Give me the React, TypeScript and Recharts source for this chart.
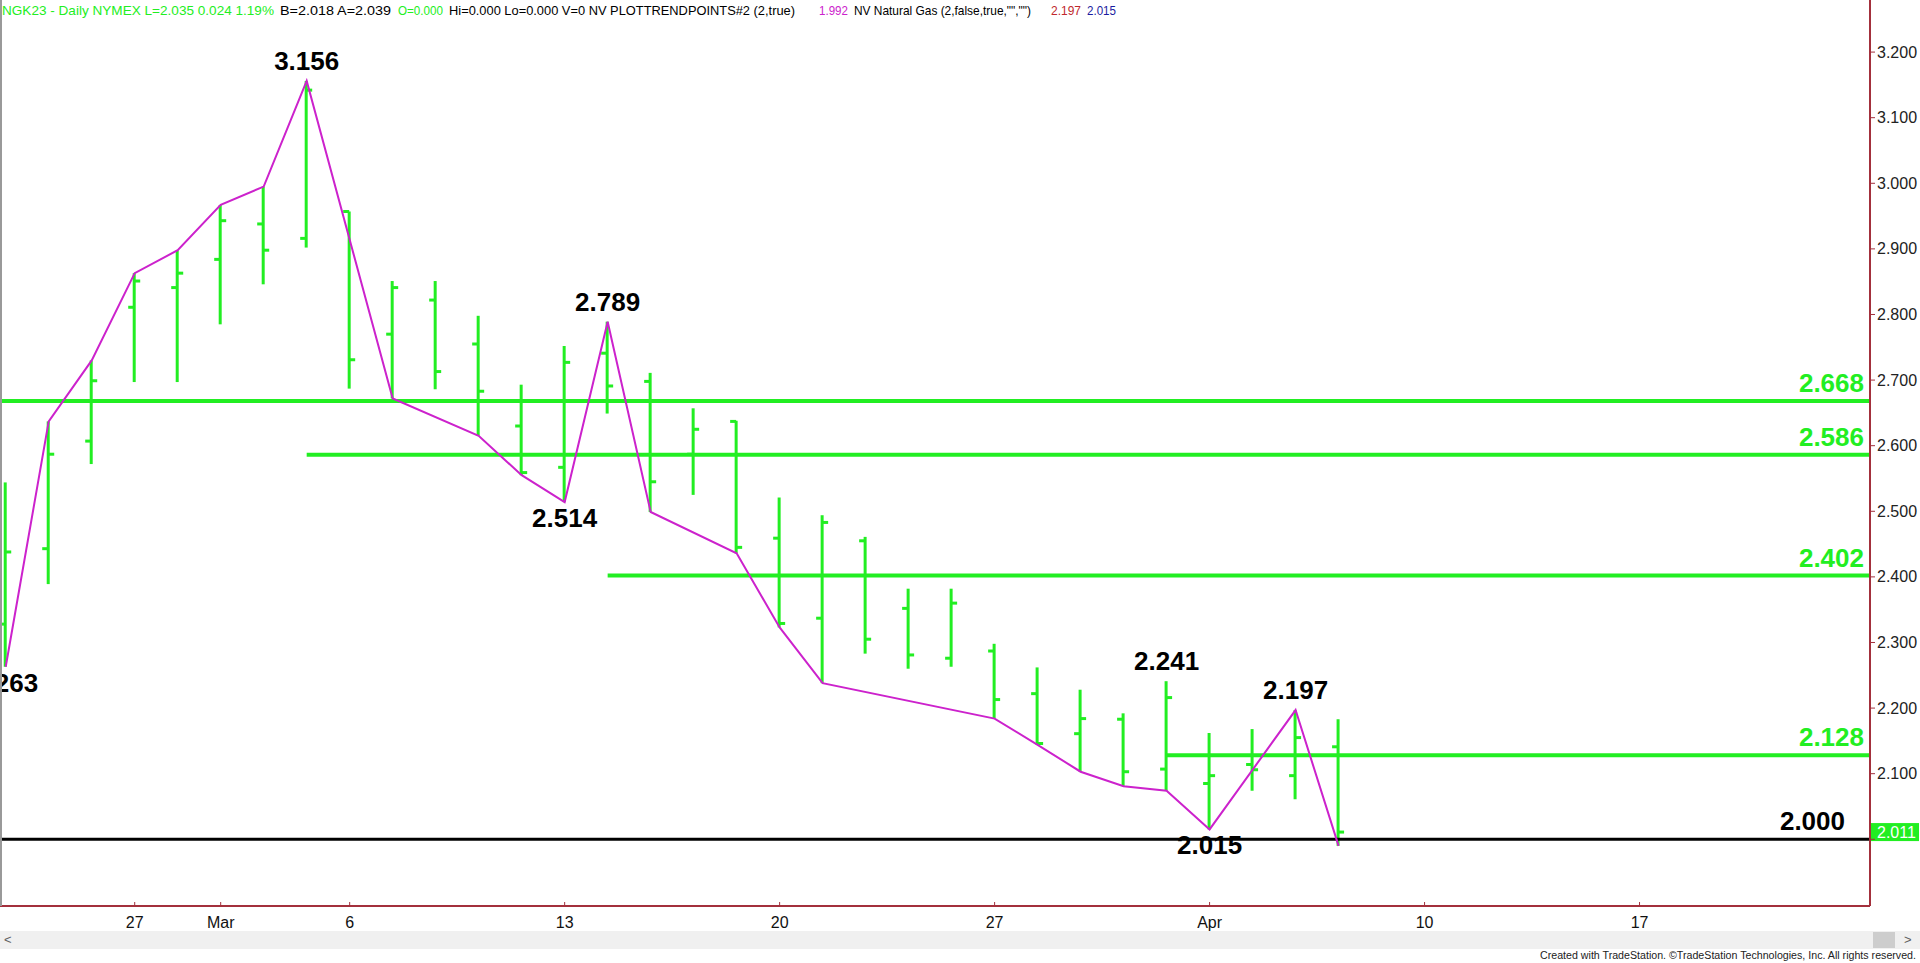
import React from "react";
import {
  ComposedChart,
  Bar,
  Line,
  XAxis,
  YAxis,
  ReferenceLine,
  ReferenceDot,
} from "recharts";

// daily bars, NGK23 (trading days only)
const dates = [
  "Feb 22", "Feb 23", "Feb 24", "Feb 27", "Feb 28", "Mar 1", "Mar 2", "Mar 3",
  "Mar 6", "Mar 7", "Mar 8", "Mar 9", "Mar 10", "Mar 13", "Mar 14", "Mar 15",
  "Mar 16", "Mar 17", "Mar 20", "Mar 21", "Mar 22", "Mar 23", "Mar 24", "Mar 27",
  "Mar 28", "Mar 29", "Mar 30", "Mar 31", "Apr 3", "Apr 4", "Apr 5", "Apr 6",
];
const opens = [
  2.328, 2.443, 2.607, 2.811, 2.841, 2.884, 2.938, 2.916,
  2.957, 2.77, 2.822, 2.755, 2.63, 2.567, 2.741, 2.698,
  2.587, 2.637, 2.459, 2.337, 2.455, 2.352, 2.276, 2.287,
  2.222, 2.161, 2.183, 2.107, 2.085, 2.114, 2.097, 2.141,
];
const highs = [
  2.544, 2.637, 2.73, 2.863, 2.898, 2.967, 2.995, 3.156,
  2.957, 2.851, 2.851, 2.798, 2.693, 2.752, 2.789, 2.711,
  2.657, 2.638, 2.521, 2.494, 2.461, 2.382, 2.382, 2.298,
  2.262, 2.228, 2.192, 2.241, 2.162, 2.168, 2.197, 2.183,
];
const lows = [
  2.263, 2.389, 2.572, 2.697, 2.697, 2.785, 2.846, 2.902,
  2.687, 2.672, 2.686, 2.615, 2.555, 2.514, 2.649, 2.499,
  2.525, 2.436, 2.323, 2.238, 2.283, 2.26, 2.263, 2.184,
  2.144, 2.103, 2.081, 2.074, 2.015, 2.074, 2.061, 1.99,
];
const closes = [
  2.438, 2.587, 2.699, 2.851, 2.863, 2.943, 2.898, 3.142,
  2.731, 2.841, 2.713, 2.683, 2.559, 2.727, 2.691, 2.545,
  2.625, 2.445, 2.329, 2.483, 2.305, 2.281, 2.36, 2.213,
  2.146, 2.184, 2.103, 2.216, 2.097, 2.106, 2.155, 2.011,
];
// PLOTTRENDPOINTS swing line (null = no point on that bar)
const trend = [
  2.263, 2.637, 2.73, 2.863, 2.898, 2.967, 2.995, 3.156,
  null, 2.672, null, 2.615, 2.555, 2.514, 2.789, 2.499,
  null, 2.436, 2.323, 2.238, null, null, null, 2.184,
  2.144, 2.103, 2.081, 2.074, 2.015, null, 2.197, 1.99,
];

const xTickIndex = [3, 5, 8, 13, 18, 23, 28, 33, 38];
const xTickLabels = ["27", "Mar", "6", "13", "20", "27", "Apr", "10", "17"];
const yTicks = [2.0, 2.1, 2.2, 2.3, 2.4, 2.5, 2.6, 2.7, 2.8, 2.9, 3.0, 3.1, 3.2];

// swing labels
const pivotIndex = [0, 7, 13, 14, 27, 28, 30];
const pivotValue = [2.263, 3.156, 2.514, 2.789, 2.241, 2.015, 2.197];
const pivotBelow = [true, false, true, false, false, true, false];

// retracement levels, start bar (-1 = from left edge)
const levelValues = [2.668, 2.586, 2.402, 2.128];
const levelStart = [-1, 7, 14, 27];
const supportLevel = 2.0;
const lastPrice = 2.011;

const GREEN = "#22ee22";
const MAGENTA = "#cc22cc";
const AXIS_RED = "#a3303c";
const FONT = "'Liberation Sans', Arial, sans-serif";
const X_DOMAIN: [number, number] = [-0.133, 43.36];
const Y_DOMAIN: [number, number] = [1.8983, 3.2794];

const rows = dates.map((d, i) => ({
  i,
  date: d,
  open: opens[i],
  high: highs[i],
  low: lows[i],
  close: closes[i],
  trend: trend[i],
}));

function OhlcBar(props: any) {
  const { x, y, width, height, payload } = props;
  const top = Math.min(y, y + height);
  const h = Math.abs(height);
  const cx = x + width / 2;
  const per = h / (payload.high - payload.low || 1);
  const oy = top + (payload.high - payload.open) * per;
  const cy = top + (payload.high - payload.close) * per;
  return (
    <g stroke={GREEN} strokeWidth={3}>
      <line x1={cx} x2={cx} y1={top} y2={top + h} />
      <line x1={cx - 6} x2={cx} y1={oy} y2={oy} />
      <line x1={cx} x2={cx + 6} y1={cy} y2={cy} />
    </g>
  );
}

function XTick(props: any) {
  const { x, y, payload } = props;
  const k = xTickIndex.indexOf(payload.value);
  return (
    <g>
      <line x1={x} x2={x} y1={y - 4} y2={y} stroke={AXIS_RED} />
      <text x={x} y={y + 22} textAnchor="middle" fontSize={16} fill="#111" fontFamily={FONT}>
        {xTickLabels[k]}
      </text>
    </g>
  );
}

function YTick(props: any) {
  const { x, y, payload } = props;
  return (
    <g>
      <line x1={x} x2={x + 5} y1={y} y2={y} stroke={AXIS_RED} />
      {payload.value !== supportLevel && (
        <text x={x + 7} y={y} dy="0.35em" fontSize={16} fill="#222" fontFamily={FONT}>
          {payload.value.toFixed(3)}
        </text>
      )}
    </g>
  );
}

export default function App() {
  return (
    <div
      style={{
        position: "absolute",
        left: 0,
        top: 0,
        width: 1920,
        height: 963,
        background: "#fff",
        overflow: "hidden",
        fontFamily: FONT,
      }}
    >
      <ComposedChart
        width={1920}
        height={963}
        data={rows}
        margin={{ top: 0, right: 0, bottom: 0, left: 0 }}
      >
        <XAxis
          dataKey="i"
          type="number"
          domain={X_DOMAIN}
          allowDataOverflow
          ticks={xTickIndex}
          interval={0}
          height={57}
          tickSize={0}
          tickMargin={0}
          tickLine={false}
          axisLine={{ stroke: AXIS_RED, strokeWidth: 2 }}
          tick={(p: any) => <XTick {...p} />}
        />
        <YAxis
          orientation="right"
          type="number"
          domain={Y_DOMAIN}
          allowDataOverflow
          ticks={yTicks}
          interval={0}
          width={50}
          tickSize={0}
          tickMargin={0}
          tickLine={false}
          axisLine={{ stroke: AXIS_RED, strokeWidth: 2 }}
          tick={(p: any) => <YTick {...p} />}
        />

        {levelValues.map((v, k) => (
          <ReferenceLine
            key={"lvl" + k}
            segment={[
              { x: levelStart[k] < 0 ? X_DOMAIN[0] : levelStart[k], y: v },
              { x: X_DOMAIN[1], y: v },
            ]}
            stroke={GREEN}
            strokeWidth={4}
          />
        ))}
        <ReferenceLine y={supportLevel} stroke="#000" strokeWidth={3} />

        <Bar
          dataKey={(d: any) => [d.low, d.high]}
          barSize={8}
          shape={(p: any) => <OhlcBar {...p} />}
          isAnimationActive={false}
        />
        <Line
          dataKey="trend"
          type="linear"
          stroke={MAGENTA}
          strokeWidth={2}
          dot={false}
          activeDot={false}
          connectNulls
          isAnimationActive={false}
        />

        {levelValues.map((v, k) => (
          <ReferenceDot
            key={"lbl" + k}
            x={X_DOMAIN[1]}
            y={v}
            r={0}
            shape={(p: any) => (
              <text
                x={p.cx - 6}
                y={p.cy - 9}
                textAnchor="end"
                fontSize={26}
                fontWeight="bold"
                fill={GREEN}
                fontFamily={FONT}
              >
                {v.toFixed(3)}
              </text>
            )}
          />
        ))}
        <ReferenceDot
          x={X_DOMAIN[1]}
          y={supportLevel}
          r={0}
          shape={(p: any) => (
            <text
              x={p.cx - 25}
              y={p.cy - 9}
              textAnchor="end"
              fontSize={26}
              fontWeight="bold"
              fill="#000"
              fontFamily={FONT}
            >
              {supportLevel.toFixed(3)}
            </text>
          )}
        />

        {pivotIndex.map((idx, k) => (
          <ReferenceDot
            key={"pv" + k}
            x={idx}
            y={pivotValue[k]}
            r={0}
            ifOverflow="visible"
            shape={(p: any) => (
              <text
                x={p.cx}
                y={pivotBelow[k] ? p.cy + 25 : p.cy - 11}
                textAnchor="middle"
                fontSize={26}
                fontWeight="bold"
                fill="#000"
                fontFamily={FONT}
              >
                {pivotValue[k].toFixed(3)}
              </text>
            )}
          />
        ))}

        <ReferenceDot
          x={X_DOMAIN[1]}
          y={lastPrice}
          r={0}
          ifOverflow="visible"
          shape={(p: any) => (
            <g>
              <rect x={p.cx + 1} y={p.cy - 9} width={48} height={18} fill={GREEN} />
              <text
                x={p.cx + 7}
                y={p.cy}
                dy="0.35em"
                fontSize={16}
                fill="#fff"
                fontFamily={FONT}
              >
                {lastPrice.toFixed(3)}
              </text>
            </g>
          )}
        />
      </ComposedChart>

      {/* header line */}
      <svg
        width={1920}
        height={22}
        style={{ position: "absolute", left: 0, top: 0 }}
        fontFamily={FONT}
        fontSize={13}
      >
        <text x={2} y={15} fill={GREEN} textLength={272} lengthAdjust="spacingAndGlyphs">
          NGK23 - Daily NYMEX L=2.035 0.024 1.19%
        </text>
        <text x={280} y={15} fill="#000" textLength={111} lengthAdjust="spacingAndGlyphs">
          B=2.018 A=2.039
        </text>
        <text x={398} y={15} fill={GREEN} textLength={45} lengthAdjust="spacingAndGlyphs">
          O=0.000
        </text>
        <text x={449} y={15} fill="#000" textLength={346} lengthAdjust="spacingAndGlyphs">
          Hi=0.000 Lo=0.000 V=0 NV PLOTTRENDPOINTS#2 (2,true)
        </text>
        <text x={819} y={15} fill={MAGENTA} textLength={29} lengthAdjust="spacingAndGlyphs">
          1.992
        </text>
        <text x={854} y={15} fill="#000" textLength={177} lengthAdjust="spacingAndGlyphs">
          {'NV Natural Gas (2,false,true,"","")'}
        </text>
        <text x={1051} y={15} fill="#c0282d" textLength={30} lengthAdjust="spacingAndGlyphs">
          2.197
        </text>
        <text x={1087} y={15} fill="#1a1aa0" textLength={29} lengthAdjust="spacingAndGlyphs">
          2.015
        </text>
      </svg>

      {/* left frame */}
      <div style={{ position: "absolute", left: 0, top: 0, width: 2, height: 906, background: "#999" }} />

      {/* scrollbar */}
      <div
        style={{
          position: "absolute",
          left: 0,
          top: 931,
          width: 1920,
          height: 18,
          background: "#f0f0f0",
          color: "#606060",
          fontSize: 13,
        }}
      >
        <span style={{ position: "absolute", left: 4, top: 1 }}>{"<"}</span>
        <div style={{ position: "absolute", left: 1873, top: 1, width: 22, height: 16, background: "#cdcdcd" }} />
        <span style={{ position: "absolute", left: 1904, top: 1 }}>{">"}</span>
      </div>

      {/* footer */}
      <svg width={1920} height={14} style={{ position: "absolute", left: 0, top: 949 }}>
        <text
          x={1540}
          y={10}
          fontSize={10}
          fill="#222"
          fontFamily={FONT}
          textLength={376}
          lengthAdjust="spacingAndGlyphs"
        >
          Created with TradeStation. ©TradeStation Technologies, Inc. All rights reserved.
        </text>
      </svg>
    </div>
  );
}
